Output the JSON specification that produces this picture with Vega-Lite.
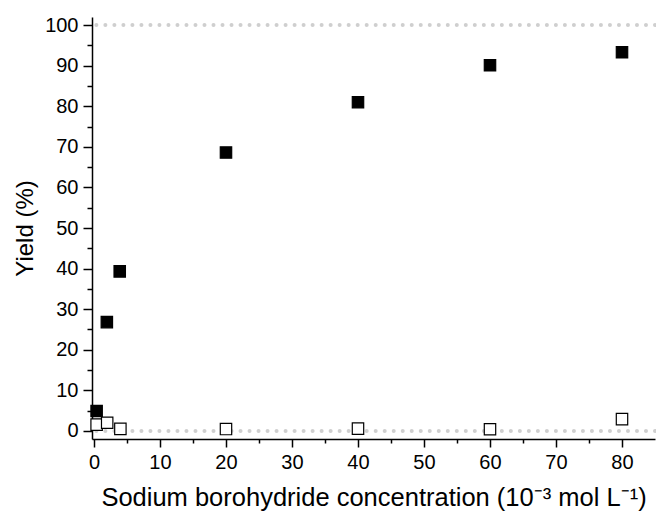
{
  "$schema": "https://vega.github.io/schema/vega-lite/v6.json",
  "width": 563,
  "height": 422,
  "autosize": {"type": "none"},
  "padding": {"left": 92, "top": 17, "right": 1, "bottom": 76},
  "background": "white",
  "config": {
    "view": {"stroke": null},
    "font": "Liberation Sans",
    "axis": {
      "domainColor": "black",
      "domainWidth": 1.5,
      "tickColor": "black",
      "tickWidth": 1.5,
      "labelColor": "black",
      "titleColor": "black",
      "labelFont": "Liberation Sans",
      "titleFont": "Liberation Sans",
      "labelFontSize": 20,
      "titleFontSize": 24,
      "titleFontWeight": "normal",
      "grid": false
    }
  },
  "datasets": {
    "points": [
      {"conc": 0.4, "yield": 4.9, "series": "filled"},
      {"conc": 1.95, "yield": 26.8, "series": "filled"},
      {"conc": 3.9, "yield": 39.3, "series": "filled"},
      {"conc": 20, "yield": 68.6, "series": "filled"},
      {"conc": 40, "yield": 81.0, "series": "filled"},
      {"conc": 60, "yield": 90.1, "series": "filled"},
      {"conc": 80, "yield": 93.3, "series": "filled"},
      {"conc": 0.4, "yield": 1.55, "series": "open"},
      {"conc": 2.0, "yield": 2.0, "series": "open"},
      {"conc": 4.0, "yield": 0.5, "series": "open"},
      {"conc": 20, "yield": 0.45, "series": "open"},
      {"conc": 40, "yield": 0.55, "series": "open"},
      {"conc": 60, "yield": 0.4, "series": "open"},
      {"conc": 80, "yield": 2.9, "series": "open"}
    ],
    "refs": [{"level": 0}, {"level": 100}]
  },
  "layer": [
    {
      "data": {"name": "refs"},
      "mark": {"type": "rule", "color": "#cfcfcf", "strokeWidth": 4, "strokeCap": "round", "strokeDash": [0.01, 9]},
      "encoding": {
        "y": {"field": "level", "type": "quantitative", "scale": {"domain": [-2, 102], "nice": false, "zero": false}, "axis": null}
      }
    },
    {
      "data": {"name": "points"},
      "mark": {"type": "point", "opacity": 0},
      "encoding": {
        "x": {"field": "conc", "type": "quantitative", "scale": {"domain": [-0.3, 85], "nice": false, "zero": false},
              "axis": {"orient": "bottom", "values": [5, 15, 25, 35, 45, 55, 65, 75], "labels": false, "domain": false, "tickSize": 4, "title": null}},
        "y": {"field": "yield", "type": "quantitative", "scale": {"domain": [-2, 102], "nice": false, "zero": false},
              "axis": {"orient": "left", "values": [5, 15, 25, 35, 45, 55, 65, 75, 85, 95], "labels": false, "domain": false, "tickSize": 5, "title": null}}
      }
    },
    {
      "data": {"name": "points"},
      "mark": {"type": "point", "shape": "square", "size": 130, "strokeWidth": 1.2, "opacity": 1, "filled": true, "stroke": "black"},
      "encoding": {
        "x": {"field": "conc", "type": "quantitative", "scale": {"domain": [-0.3, 85], "nice": false, "zero": false},
              "axis": {"orient": "bottom", "values": [0, 10, 20, 30, 40, 50, 60, 70, 80], "tickSize": 8, "labelPadding": 5,
                       "title": "Sodium borohydride concentration (10⁻³ mol L⁻¹)", "titleFontSize": 25.5, "titlePadding": 13}},
        "y": {"field": "yield", "type": "quantitative", "scale": {"domain": [-2, 102], "nice": false, "zero": false},
              "axis": {"orient": "left", "values": [0, 10, 20, 30, 40, 50, 60, 70, 80, 90, 100], "tickSize": 9, "labelPadding": 5,
                       "title": "Yield (%)", "titleX": -67, "titleBaseline": "middle"}},
        "fill": {"field": "series", "type": "nominal", "scale": {"domain": ["filled", "open"], "range": ["black", "white"]}, "legend": null}
      }
    }
  ],
  "resolve": {"axis": {"x": "independent", "y": "independent"}}
}
